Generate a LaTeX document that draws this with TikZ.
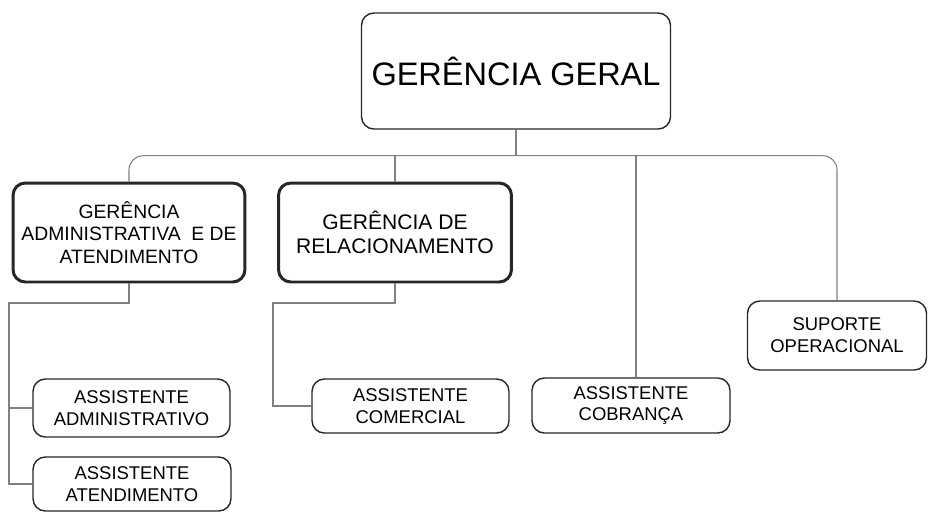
\documentclass[tikz,border=0pt]{standalone}
\usepackage{fontspec}
\setmainfont{Liberation Sans}
\usetikzlibrary{positioning,calc}

\begin{document}
\begin{tikzpicture}
[x=0.02cm, y=-0.02cm,
box/.style={draw=black!85, line width=0.8pt, rounded corners=7pt, align=center, inner sep=0pt, font=\fontsize{10.5}{12.5}\selectfont},
mainbox/.style={box, line width=1.7pt, font=\fontsize{11}{13}\selectfont},
conn/.style={draw=gray, line width=0.6pt}]

\useasboundingbox (0,0) rectangle (928,512);

\node[box, minimum width=6.18cm, minimum height=2.32cm, font=\fontsize{18.5}{22}\selectfont] (geral) at (516,71) {GERÊNCIA GERAL};

\node[mainbox, minimum width=4.64cm, minimum height=1.98cm] (gadm) at (129,232.5) {GERÊNCIA\\ADMINISTRATIVA\ \ E DE\\ATENDIMENTO};
\node[mainbox, minimum width=4.66cm, minimum height=1.98cm, font=\fontsize{12}{14}\selectfont] (grel) at (395,232.5) {GERÊNCIA DE\\RELACIONAMENTO};

\node[box, minimum width=3.94cm, minimum height=1.16cm] (admin) at (131.5,408) {ASSISTENTE\\ADMINISTRATIVO};
\node[box, minimum width=3.96cm, minimum height=1.08cm] (atend) at (132,484) {ASSISTENTE\\ATENDIMENTO};
\node[box, minimum width=3.94cm, minimum height=1.08cm] (comercial) at (410.5,406) {ASSISTENTE\\COMERCIAL};
\node[box, minimum width=3.96cm, minimum height=1.10cm] (cobranca) at (631,405.5) {ASSISTENTE\\COBRANÇA};
\node[box, minimum width=3.58cm, minimum height=1.38cm] (suporte) at (837,335.5) {SUPORTE\\OPERACIONAL};

% top level bus
\coordinate (bus) at ($(geral.south)+(0,26)$);
\draw[conn] (geral.south) -- (bus);
\draw[conn, rounded corners=8pt] (gadm.north) |- (bus) -| (suporte.north);
\draw[conn] (grel.north) -- (grel.north |- bus);
\draw[conn] ($(cobranca.north)+(5,0)$) -- ($(cobranca.north |- bus)+(5,0)$);

% left branch
\coordinate (admknee) at (9,303);
\draw[conn] (gadm.south) |- (admknee) |- (atend.west);
\draw[conn] (admknee |- admin.west) -- (admin.west);

% middle branch
\coordinate (relknee) at (273,303);
\draw[conn] (grel.south) |- (relknee) |- (comercial.west);
\end{tikzpicture}
\end{document}
